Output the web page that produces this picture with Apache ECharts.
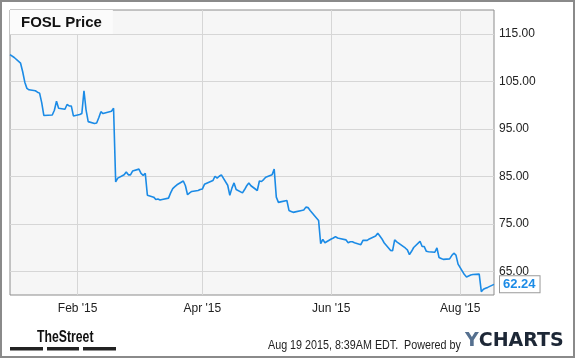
<!DOCTYPE html>
<html>
<head>
<meta charset="utf-8">
<script src="https://cdn.jsdelivr.net/npm/echarts@6/dist/echarts.min.js"></script>
<style>
html,body{margin:0;padding:0;background:#fff;}
#chart{width:575px;height:358px;}
</style>
</head>
<body>
<div id="chart"></div>
<script>
const titleText = 'FOSL Price';
const dates = [
'2014-12-31','2015-01-02','2015-01-05','2015-01-06','2015-01-07','2015-01-08','2015-01-09','2015-01-12','2015-01-13','2015-01-14',
'2015-01-15','2015-01-16','2015-01-20','2015-01-21','2015-01-22','2015-01-23','2015-01-26','2015-01-27','2015-01-28','2015-01-29',
'2015-01-30','2015-02-02','2015-02-03','2015-02-04','2015-02-05','2015-02-06','2015-02-09','2015-02-10','2015-02-11','2015-02-12',
'2015-02-13','2015-02-17','2015-02-18','2015-02-19','2015-02-20','2015-02-23','2015-02-24','2015-02-25','2015-02-26','2015-02-27',
'2015-03-02','2015-03-03','2015-03-04','2015-03-05','2015-03-06','2015-03-09','2015-03-10','2015-03-11','2015-03-12','2015-03-13',
'2015-03-16','2015-03-17','2015-03-18','2015-03-19','2015-03-20','2015-03-23','2015-03-24','2015-03-25','2015-03-26','2015-03-27',
'2015-03-30','2015-03-31','2015-04-01','2015-04-02','2015-04-06','2015-04-07','2015-04-08','2015-04-09','2015-04-10','2015-04-13',
'2015-04-14','2015-04-15','2015-04-16','2015-04-17','2015-04-20','2015-04-21','2015-04-22','2015-04-23','2015-04-24','2015-04-27',
'2015-04-28','2015-04-29','2015-04-30','2015-05-01','2015-05-04','2015-05-05','2015-05-06','2015-05-07','2015-05-08','2015-05-11',
'2015-05-12','2015-05-13','2015-05-14','2015-05-15','2015-05-18','2015-05-19','2015-05-20','2015-05-21','2015-05-22','2015-05-26',
'2015-05-27','2015-05-28','2015-05-29','2015-06-01','2015-06-02','2015-06-03','2015-06-04','2015-06-05','2015-06-08','2015-06-09',
'2015-06-10','2015-06-11','2015-06-12','2015-06-15','2015-06-16','2015-06-17','2015-06-18','2015-06-19','2015-06-22','2015-06-23',
'2015-06-24','2015-06-25','2015-06-26','2015-06-29','2015-06-30','2015-07-01','2015-07-02','2015-07-06','2015-07-07','2015-07-08',
'2015-07-09','2015-07-10','2015-07-13','2015-07-14','2015-07-15','2015-07-16','2015-07-17','2015-07-20','2015-07-21','2015-07-22',
'2015-07-23','2015-07-24','2015-07-27','2015-07-28','2015-07-29','2015-07-30','2015-07-31','2015-08-03','2015-08-04','2015-08-05',
'2015-08-06','2015-08-07','2015-08-10','2015-08-11','2015-08-12','2015-08-13','2015-08-14','2015-08-17'
];
const prices = [
110.6,110.0,108.8,107.0,104.8,103.5,103.2,103.0,102.7,102.5,
100.5,97.8,97.9,98.9,100.8,99.3,99.1,100.1,99.8,99.8,
97.7,98.0,98.2,103.0,98.9,96.5,96.1,96.2,97.3,98.6,
98.2,98.7,99.3,83.8,84.6,85.3,85.9,85.3,85.3,86.1,
86.5,85.6,85.2,85.6,81.0,80.6,80.1,80.2,80.0,80.1,
80.4,81.5,82.4,82.8,83.2,84.0,83.0,81.1,81.5,81.8,
82.0,82.2,82.3,83.3,84.1,85.0,84.6,85.0,85.3,83.1,
81.0,82.5,83.6,82.2,81.5,82.2,83.0,83.6,83.0,82.0,
84.0,83.9,84.3,84.8,85.3,86.5,80.6,79.5,79.6,79.9,
77.8,77.6,77.4,77.5,77.8,77.9,78.5,78.4,77.8,75.7,
70.8,71.7,71.0,71.8,72.0,72.3,72.0,71.9,71.6,71.0,
71.2,71.2,71.0,70.6,71.5,71.5,71.5,71.8,72.4,73.0,
72.4,71.8,71.0,69.4,69.3,71.6,71.2,69.9,69.5,68.5,
69.2,70.0,71.3,70.2,70.2,69.2,69.1,69.0,69.9,67.9,
67.7,67.5,67.6,68.3,68.8,68.4,66.5,64.3,63.8,64.0,
64.2,64.3,64.4,60.7,61.2,61.4,61.6,62.24
];
const xMinDate = '2014-12-31';
const xMaxDate = '2015-08-17';
const xTickDates = ['2015-02-01','2015-04-01','2015-06-01','2015-08-01'];
const xTickLabels = ["Feb '15","Apr '15","Jun '15","Aug '15"];
const yTicks = [65,75,85,95,105,115];
const lastLabel = '62.24';
const footerText = 'Aug 19 2015, 8:39AM EDT.  Powered by';

const FONT = '"Liberation Sans", Arial, sans-serif';
const ts = d => Date.UTC(+d.slice(0,4), +d.slice(5,7)-1, +d.slice(8,10));
const chart = echarts.init(document.getElementById('chart'), null, {renderer:'canvas'});
const seriesData = dates.map((d,i)=>[ts(d), prices[i]]);
const tickTimes = xTickDates.map(ts);

chart.setOption({
  animation:false,
  backgroundColor:'#fff',
  textStyle:{fontFamily:FONT},
  title:{
    text:titleText, left:10, top:10,
    padding:[5,11,4,11],
    backgroundColor:'#fbfbfb',
    textStyle:{fontSize:15,fontWeight:'bold',color:'#111',fontFamily:FONT}
  },
  grid:{left:10, top:10, width:484, height:285, show:true, backgroundColor:'#f6f6f6', borderColor:'#8c8c8c', borderWidth:1, containLabel:false},
  xAxis:{
    type:'value',
    min:ts(xMinDate), max:ts(xMaxDate),
    axisLine:{show:false},
    axisTick:{show:false, customValues:tickTimes},
    axisLabel:{
      customValues:tickTimes,
      color:'#222', fontSize:12, margin:8, fontFamily:FONT,
      formatter:function(v){
        let best=0, bd=Infinity;
        tickTimes.forEach((tt,i)=>{const d=Math.abs(tt-v); if(d<bd){bd=d;best=i;}});
        return xTickLabels[best];
      }
    },
    splitLine:{show:true, lineStyle:{color:'#d6d6d6', width:1}}
  },
  yAxis:{
    type:'value', position:'right',
    min:60, max:120, interval:5,
    axisLine:{show:false}, axisTick:{show:false},
    axisLabel:{
      color:'#222', fontSize:12, margin:5, fontFamily:FONT,
      formatter:function(v){ return yTicks.indexOf(Math.round(v))>=0 ? v.toFixed(2) : ''; }
    },
    splitLine:{show:true, lineStyle:{color:['rgba(0,0,0,0)','#d6d6d6'], width:1}}
  },
  series:[{
    type:'line',
    data:seriesData,
    showSymbol:false,
    symbol:'none',
    lineStyle:{color:'#1b8be6', width:1.6},
    itemStyle:{color:'#1b8be6'},
    endLabel:{
      show:true,
      formatter:lastLabel,
      color:'#1b8be6', fontWeight:'bold', fontSize:13, fontFamily:FONT,
      backgroundColor:'#fff', borderColor:'#9a9a9a', borderWidth:1,
      padding:[2,4,1,3], distance:6
    }
  }],
  graphic:[
    {type:'rect', shape:{x:1,y:1,width:573,height:356}, style:{fill:'none', stroke:'#8a8a8a', lineWidth:2}, silent:true},
    {type:'text', x:37, y:329, scaleX:0.72, style:{text:'TheStreet', font:'bold 17px "Liberation Sans Narrow", "Liberation Sans", Arial', fill:'#111'}},
    {type:'rect', shape:{x:10,y:347,width:33,height:3.5}, style:{fill:'#222'}},
    {type:'rect', shape:{x:47,y:347,width:32,height:3.5}, style:{fill:'#222'}},
    {type:'rect', shape:{x:83,y:347,width:33,height:3.5}, style:{fill:'#222'}},
    {type:'text', x:268, y:340, scaleX:0.895, style:{text:footerText, font:'12px "Liberation Sans", Arial', fill:'#222'}},
    {type:'text', x:465, y:332, style:{text:'{y|Y}{c|CHARTS}', rich:{y:{font:'bold 19px "DejaVu Sans"', fill:'#55708f'}, c:{font:'bold 19px "DejaVu Sans"', fill:'#1d2736'}}}}
  ]
});
</script>
</body>
</html>
